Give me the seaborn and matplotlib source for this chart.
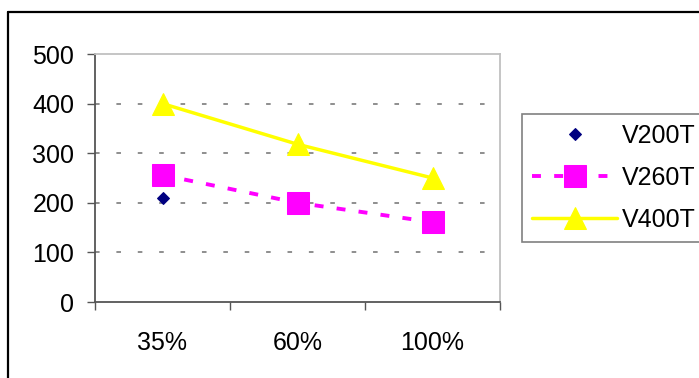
import seaborn as sns
import pandas as pd
from matplotlib import pyplot as plt
from matplotlib.lines import Line2D

# valores
categorias = ['35%', '60%', '100%']
v200t = [210]
v260t = [256, 200, 161]
v400t = [400, 318, 250]

sns.set_style('white')
plt.rcParams['font.family'] = ['Liberation Sans', 'DejaVu Sans']
plt.rcParams['text.color'] = 'black'
plt.rcParams['xtick.labelcolor'] = 'black'
plt.rcParams['ytick.labelcolor'] = 'black'

fig = plt.figure(figsize=(6.99, 3.78), dpi=100)
ax = fig.add_axes([95 / 699, 76 / 378, 405 / 699, 248 / 378])

# V400T - linha amarela com triangulos
sns.lineplot(x=categorias, y=v400t, ax=ax, sort=False, color='#ffff00',
             linewidth=2.5, marker='^', markersize=15.5, markeredgecolor='#ffff00',
             label='V400T', zorder=3)
# V260T - tracejado magenta com quadrados
sns.lineplot(x=categorias, y=v260t, ax=ax, sort=False, color='#ff00ff',
             linewidth=2.8, linestyle=(0, (2.3, 3.4)), marker='s', markersize=15.5,
             markeredgecolor='#ff00ff', label='V260T', zorder=4)
# V200T - so um ponto
sns.lineplot(x=categorias[:len(v200t)], y=v200t, ax=ax, sort=False, color='#000080',
             linestyle='', marker='D', markersize=6.5, markeredgecolor='#000080',
             label='V200T', zorder=5)

ax.set_xlim(-0.5, len(categorias) - 0.5)
ax.set_ylim(0, 500)
ax.set_yticks(range(0, 501, 100))
ax.set_xticks(range(len(categorias)))
ax.set_xticklabels(categorias)
ax.set_xticks([i - 0.5 for i in range(len(categorias) + 1)], minor=True)
ax.set_xlabel('')
ax.set_ylabel('')

ax.tick_params(axis='y', which='major', length=6, width=1, color='#555555',
               direction='out', left=True, pad=9, labelsize=18, labelcolor='black')
ax.tick_params(axis='x', which='major', length=0, pad=21, labelsize=18,
               labelcolor='black')
ax.tick_params(axis='x', which='minor', length=6, width=1, color='#555555',
               direction='out', bottom=True)

ax.yaxis.grid(True, color='#707070', linestyle=(0, (3, 11)), linewidth=1.1)
gl = ax.get_ygridlines()
gl[0].set_visible(False)
gl[-1].set_visible(False)
ax.set_axisbelow(True)

for lado in ['left', 'bottom']:
    ax.spines[lado].set_color('#555555')
    ax.spines[lado].set_linewidth(1.3)
for lado in ['top', 'right']:
    ax.spines[lado].set_color('#c0c0c0')
    ax.spines[lado].set_linewidth(1.3)

h, l = ax.get_legend_handles_labels()
ordem = [l.index('V200T'), l.index('V260T'), l.index('V400T')]
leg = ax.legend([h[i] for i in ordem], [l[i] for i in ordem],
                loc='upper left', bbox_to_anchor=(522 / 699, 1 - 114 / 378),
                bbox_transform=fig.transFigure, borderaxespad=0, fontsize=18,
                frameon=True, fancybox=False, edgecolor='#808080', framealpha=1,
                handlelength=3.4, handletextpad=0.2, borderpad=0.4,
                labelspacing=0.72, numpoints=1, labelcolor='black')
leg.get_frame().set_linewidth(1.2)

# moldura exterior (so topo e esquerda aparecem)
fig.add_artist(Line2D([8 / 699, 1.0], [1 - 12 / 378, 1 - 12 / 378],
                      transform=fig.transFigure, color='black', linewidth=1.6))
fig.add_artist(Line2D([8 / 699, 8 / 699], [0.0, 1 - 12 / 378],
                      transform=fig.transFigure, color='black', linewidth=1.6))

fig.savefig('out.png', dpi=100)
